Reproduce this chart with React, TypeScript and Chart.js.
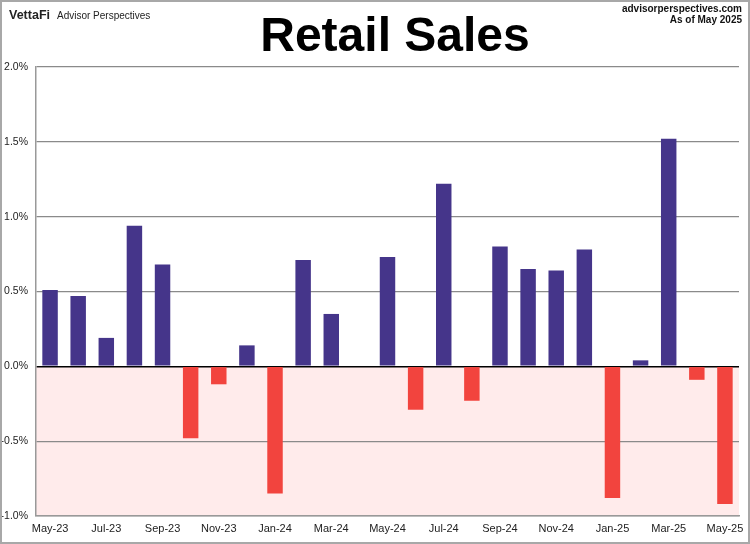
import React, { useEffect, useRef } from "react";
import { Chart, registerables } from "chart.js";

Chart.register(...registerables);

const months = [
  "May-23", "Jun-23", "Jul-23", "Aug-23", "Sep-23", "Oct-23", "Nov-23", "Dec-23",
  "Jan-24", "Feb-24", "Mar-24", "Apr-24", "May-24", "Jun-24", "Jul-24", "Aug-24",
  "Sep-24", "Oct-24", "Nov-24", "Dec-24", "Jan-25", "Feb-25", "Mar-25", "Apr-25", "May-25",
];
const salesChange = [
  0.51, 0.47, 0.19, 0.94, 0.68, -0.48, -0.12, 0.14,
  -0.85, 0.71, 0.35, 0.0, 0.73, -0.29, 1.22, -0.23,
  0.8, 0.65, 0.64, 0.78, -0.88, 0.04, 1.52, -0.09, -0.92,
];
const yTicks = [-1.0, -0.5, 0.0, 0.5, 1.0, 1.5, 2.0];

const FONT = "'Liberation Sans', Arial, sans-serif";
const PURPLE = "#45358A";
const RED = "#F2443E";
const PINK = "#FFEBEB";

const decorPlugin = {
  id: "decor",
  beforeDraw(chart: any) {
    const { ctx, chartArea, scales } = chart;
    const y = scales.y;
    ctx.save();
    ctx.fillStyle = "#ffffff";
    ctx.fillRect(0, 0, chart.width, chart.height);
    const y0 = y.getPixelForValue(0);
    const yMin = y.getPixelForValue(yTicks[0]);
    ctx.fillStyle = PINK;
    ctx.fillRect(chartArea.left, y0, chartArea.right - chartArea.left, yMin - y0);
    ctx.restore();
  },
  afterDraw(chart: any) {
    const { ctx } = chart;
    ctx.save();
    // frame
    ctx.strokeStyle = "#a8a8a8";
    ctx.lineWidth = 2;
    ctx.strokeRect(1, 1, chart.width - 2, chart.height - 2);
    // title
    ctx.fillStyle = "#000";
    ctx.textAlign = "center";
    ctx.textBaseline = "alphabetic";
    ctx.font = `bold 48px ${FONT}`;
    ctx.fillText("Retail Sales", 395, 51);
    // left header
    ctx.textAlign = "left";
    ctx.font = `bold 12.5px ${FONT}`;
    ctx.fillStyle = "#222";
    ctx.fillText("VettaFi", 9, 19);
    ctx.font = `10px ${FONT}`;
    ctx.fillText("Advisor Perspectives", 57, 19);
    // right header
    ctx.textAlign = "right";
    ctx.font = `bold 10px ${FONT}`;
    ctx.fillStyle = "#111";
    ctx.fillText("advisorperspectives.com", 742, 12);
    ctx.fillText("As of May 2025", 742, 23);
    ctx.restore();
  },
};

export default function App() {
  const canvasRef = useRef<HTMLCanvasElement | null>(null);

  useEffect(() => {
    document.body.style.margin = "0";
    const canvas = canvasRef.current;
    if (!canvas) return;
    const chart = new Chart(canvas, {
      type: "bar",
      data: {
        labels: months,
        datasets: [
          {
            data: salesChange,
            backgroundColor: salesChange.map((v) => (v >= 0 ? PURPLE : RED)),
            borderWidth: 0,
            barPercentage: 0.55,
            categoryPercentage: 1.0,
          },
        ],
      },
      options: {
        animation: false,
        responsive: false,
        maintainAspectRatio: false,
        devicePixelRatio: 1,
        layout: { padding: { top: 67, right: 11, left: 0, bottom: 0 } },
        plugins: {
          legend: { display: false },
          title: { display: false },
          tooltip: { enabled: false },
        },
        scales: {
          x: {
            offset: true,
            grid: { display: false, drawTicks: false },
            border: { display: true, color: "#999", width: 1.5 },
            ticks: {
              autoSkip: false,
              maxRotation: 0,
              minRotation: 0,
              padding: 6,
              color: "#222",
              font: { family: FONT, size: 11 },
              callback: (_v: any, i: number) => (i % 2 === 0 ? months[i] : ""),
            },
            afterFit: (scale: any) => {
              scale.height = 28;
            },
          },
          y: {
            min: yTicks[0],
            max: yTicks[yTicks.length - 1],
            afterBuildTicks: (scale: any) => {
              scale.ticks = yTicks.map((v) => ({ value: v }));
            },
            grid: {
              drawTicks: false,
              color: (c: any) => (c.tick && c.tick.value === 0 ? "#000" : "#8a8a8a"),
              lineWidth: (c: any) => (c.tick && c.tick.value === 0 ? 1.5 : 1.2),
            },
            border: { display: true, color: "#999", width: 1.5 },
            ticks: {
              padding: 8,
              color: "#222",
              font: { family: FONT, size: 10.5 },
              callback: (v: any) => Number(v).toFixed(1) + "%",
            },
            afterFit: (scale: any) => {
              scale.width = 36;
            },
          },
        },
      },
      plugins: [decorPlugin],
    });
    return () => chart.destroy();
  }, []);

  return (
    <div style={{ width: 750, height: 544 }}>
      <canvas ref={canvasRef} width={750} height={544} style={{ display: "block" }} />
    </div>
  );
}
